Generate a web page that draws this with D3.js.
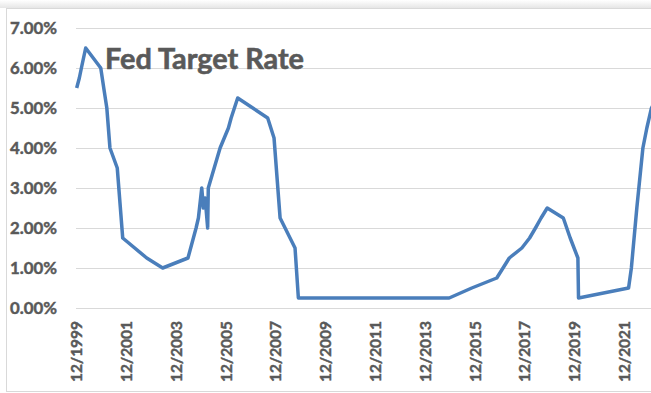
<!DOCTYPE html>
<html>
<head>
<meta charset="utf-8">
<script src="https://cdn.jsdelivr.net/npm/d3@7"></script>
<style>
  html, body { margin: 0; padding: 0; background: #ffffff; }
  svg { display: block; }
</style>
</head>
<body>
<svg id="chart" width="651" height="393"></svg>
<script>
// ---- data ----
const dates = [
  "1999-12-11","2000-01-19","2000-02-18","2000-04-21","2000-11-28","2001-01-11",
  "2001-02-25","2001-04-12","2001-07-28","2001-10-16","2002-10-03","2003-05-25",
  "2004-05-30","2004-09-26","2004-10-30","2004-12-18","2005-01-11","2005-02-06",
  "2005-03-15","2005-03-24","2005-09-13","2006-01-13","2006-02-22","2006-05-29",
  "2007-08-12","2007-11-13","2008-02-10","2008-09-16","2008-11-04","2014-11-24",
  "2015-10-22","2016-10-22","2017-04-24","2017-10-25","2018-02-16","2018-05-13",
  "2018-08-03","2018-11-01","2019-06-25","2019-10-04","2020-01-25","2020-02-03",
  "2022-02-06","2022-03-19","2022-06-07","2022-09-04","2022-11-01","2023-01-08",
  "2023-04-01"
];
const rates = [
  5.50, 5.75, 6.00, 6.50, 6.00, 5.50,
  5.00, 4.00, 3.50, 1.75, 1.25, 1.00,
  1.25, 2.00, 2.25, 3.00, 2.50, 2.75,
  2.00, 3.00, 4.00, 4.50, 4.75, 5.25,
  4.75, 4.25, 2.25, 1.50, 0.25, 0.25,
  0.50, 0.75, 1.25, 1.50, 1.75, 2.00,
  2.25, 2.50, 2.25, 1.75, 1.25, 0.25,
  0.50, 1.00, 2.50, 4.00, 4.50, 5.00,
  5.25
];
const xTickLabels = ["12/1999","12/2001","12/2003","12/2005","12/2007","12/2009",
                     "12/2011","12/2013","12/2015","12/2017","12/2019","12/2021"];
const yTicks = [0, 1, 2, 3, 4, 5, 6, 7];
const title = "Fed Target Rate";

// ---- drawing ----
const W = 651, H = 393;
const svg = d3.select("#chart");
const parse = d3.timeParse("%Y-%m-%d");
const tickParse = d3.timeParse("%m/%Y");
const data = dates.map((d, i) => ({ date: parse(d), value: rates[i] }));

const x = d3.scaleTime()
  .domain([tickParse("12/1999"), tickParse("12/2021")])
  .range([76, 624]);
const y = d3.scaleLinear().domain([0, 7]).range([308, 28]);

const textColor = "#595959";
const font = "Lato, 'Liberation Sans', sans-serif";

// chart frame with soft top shadow
const defs = svg.append("defs");
const grad = defs.append("linearGradient").attr("id", "shadow")
  .attr("x1", 0).attr("y1", 0).attr("x2", 0).attr("y2", 1);
grad.append("stop").attr("offset", "0%").attr("stop-color", "#ffffff");
grad.append("stop").attr("offset", "100%").attr("stop-color", "#e6e6e6");
svg.append("rect").attr("x", 0).attr("y", 0).attr("width", W).attr("height", 8)
  .attr("fill", "url(#shadow)");
svg.append("rect").attr("x", 6.5).attr("y", 8.5).attr("width", W + 10).attr("height", 383)
  .attr("fill", "#ffffff").attr("stroke", "#d9d9d9").attr("stroke-width", 1);

// y gridlines + labels
const yAxis = d3.axisLeft(y).tickValues(yTicks).tickSize(-(W - 76))
  .tickFormat(d => d.toFixed(2) + "%").tickPadding(19);
const gy = svg.append("g").attr("transform", "translate(76,0)").call(yAxis);
gy.select(".domain").remove();
gy.selectAll(".tick line").attr("stroke", "#d9d9d9").attr("stroke-width", 1);
gy.selectAll(".tick text")
  .attr("fill", textColor).attr("font-family", font).attr("font-weight", "bold")
  .attr("font-size", 17)
  .attr("stroke", textColor).attr("stroke-width", 0.45);

// x axis labels (rotated)
const xAxis = d3.axisBottom(x).tickValues(xTickLabels.map(tickParse))
  .tickFormat(d3.timeFormat("%m/%Y")).tickSize(0).tickPadding(0);
const gx = svg.append("g").attr("transform", "translate(0,308)").call(xAxis);
gx.select(".domain").attr("stroke", "#d9d9d9").attr("d", `M76,0.5H${W}`);
gx.selectAll(".tick text")
  .attr("fill", textColor).attr("font-family", font).attr("font-weight", "bold")
  .attr("font-size", 17)
  .attr("stroke", textColor).attr("stroke-width", 0.45)
  .attr("text-anchor", "end")
  .attr("transform", "translate(0,13) rotate(-90)")
  .attr("x", 0).attr("y", 0).attr("dy", "0.36em");

// line
const line = d3.line().x(d => x(d.date)).y(d => y(d.value));
svg.append("path").datum(data)
  .attr("d", line)
  .attr("fill", "none")
  .attr("stroke", "#4a7ebb")
  .attr("stroke-width", 3.5)
  .attr("stroke-linejoin", "round")
  .attr("stroke-linecap", "butt");

// title
svg.append("text").attr("x", 105).attr("y", 69.3)
  .attr("fill", textColor).attr("font-family", font).attr("font-weight", "bold")
  .attr("stroke", textColor).attr("stroke-width", 0.6)
  .attr("font-size", 28).text(title);

// fit text widths to the reference
function fit(sel, target) {
  sel.each(function () {
    const el = d3.select(this);
    const fs = +el.attr("font-size");
    const w = this.getComputedTextLength();
    if (w > 0) el.attr("font-size", (fs * target / w).toFixed(2));
  });
}
fit(svg.selectAll("text").filter(function () { return this.textContent === title; }), 199);
fit(gy.selectAll(".tick text").filter(function () { return this.textContent === "0.00%"; }), 47);
const yfs = gy.selectAll(".tick text").filter(function () { return this.textContent === "0.00%"; }).attr("font-size");
gy.selectAll(".tick text").attr("font-size", yfs);
fit(gx.selectAll(".tick text").filter(function () { return this.textContent === "12/1999"; }), 61);
const xfs = gx.selectAll(".tick text").filter(function () { return this.textContent === "12/1999"; }).attr("font-size");
gx.selectAll(".tick text").attr("font-size", xfs);
</script>
</body>
</html>
